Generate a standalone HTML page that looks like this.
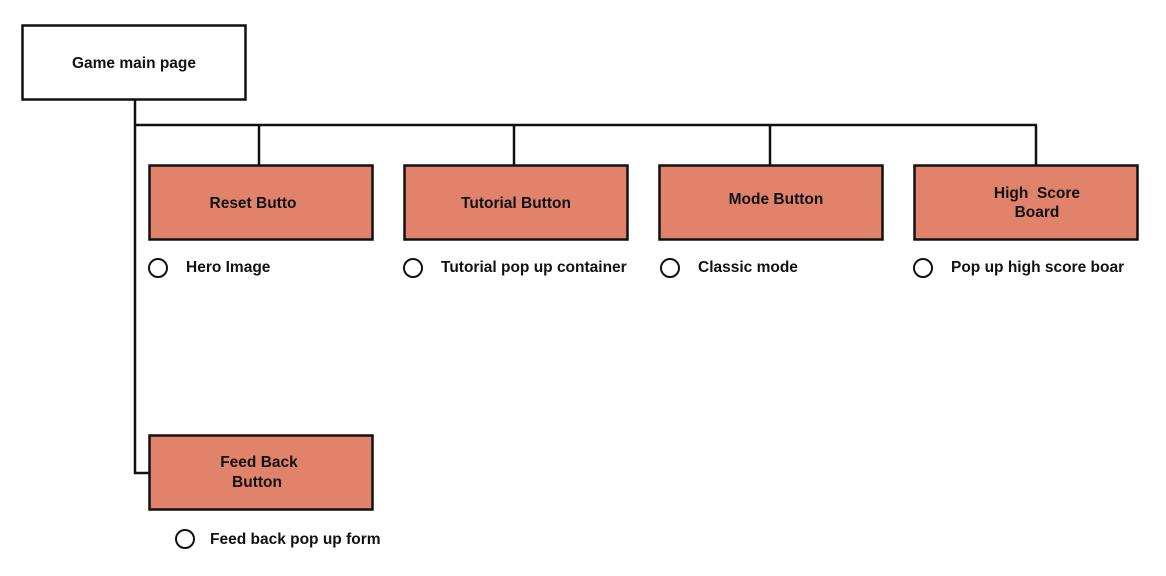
<!DOCTYPE html>
<html><head><style>
body{margin:0;width:1166px;height:571px;background:#fff;overflow:hidden;}
</style></head><body>
<svg width="1166" height="571" xmlns="http://www.w3.org/2000/svg" font-family="Liberation Sans, sans-serif" font-size="15.5" font-weight="bold" fill="#111">
<g stroke="#111" stroke-width="2.5" fill="none">
<rect x="22.5" y="25.5" width="223" height="74" fill="#fff"/>
<line x1="135" y1="100" x2="135" y2="474"/>
<line x1="134" y1="473" x2="150" y2="473"/>
<line x1="134" y1="125" x2="1037" y2="125"/>
<line x1="259" y1="125" x2="259" y2="165"/>
<line x1="514" y1="125" x2="514" y2="165"/>
<line x1="770" y1="125" x2="770" y2="165"/>
<line x1="1036" y1="125" x2="1036" y2="165"/>
<rect x="149.5" y="165.5" width="223" height="74" fill="#e0836a"/>
<rect x="404.5" y="165.5" width="223" height="74" fill="#e0836a"/>
<rect x="659.5" y="165.5" width="223" height="74" fill="#e0836a"/>
<rect x="914.5" y="165.5" width="223" height="74" fill="#e0836a"/>
<rect x="149.5" y="435.5" width="223" height="74" fill="#e0836a"/>
<g stroke-width="2"><circle cx="158" cy="268" r="9"/><circle cx="413" cy="268" r="9"/><circle cx="670" cy="268" r="9"/><circle cx="923" cy="268" r="9"/><circle cx="185" cy="539" r="9"/></g>
</g>
<g text-anchor="middle">
<text x="134" y="68">Game main page</text>
<text x="253" y="208">Reset Butto</text>
<text x="516" y="208">Tutorial Button</text>
<text x="776" y="204">Mode Button</text>
<text x="1037" y="198">High&#160; Score</text>
<text x="1037" y="217">Board</text>
<text x="259" y="467">Feed Back</text>
<text x="257" y="487">Button</text>
</g>
<text x="186" y="272">Hero Image</text>
<text x="441" y="272">Tutorial pop up container</text>
<text x="698" y="272">Classic mode</text>
<text x="951" y="272">Pop up high score boar</text>
<text x="210" y="544">Feed back pop up form</text>
</svg>
</body></html>
